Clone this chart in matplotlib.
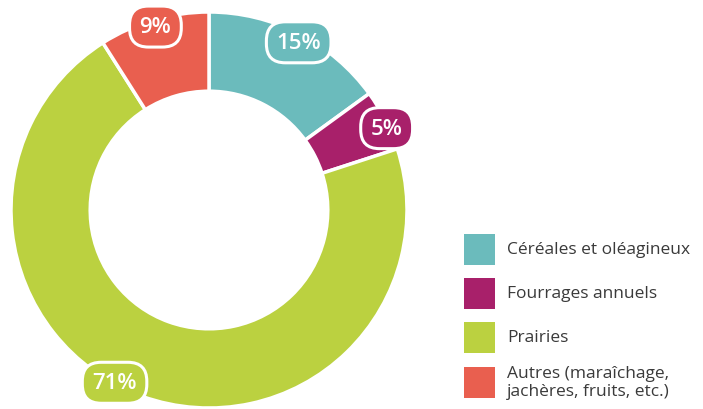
import matplotlib
matplotlib.use("Agg")
import matplotlib.pyplot as plt
from matplotlib.patches import Rectangle
import numpy as np

categories = ["Céréales et oléagineux", "Fourrages annuels", "Prairies",
              "Autres (maraîchage,\njachères, fruits, etc.)"]
values = [15, 5, 71, 9]
labels = ["15%", "5%", "71%", "9%"]
colors = ["#6BBBBC", "#A8206A", "#BBD140", "#E95F4F"]

W, H = 703, 410
fig = plt.figure(figsize=(W / 100, H / 100), dpi=100)
ax = fig.add_axes([0, 0, 1, 1])
ax.axis("off")

cx, cy, R = 209, 199, 198
wedges, _ = ax.pie(values, colors=colors, startangle=90, counterclock=False,
                   center=(cx, cy), radius=R,
                   wedgeprops=dict(width=R * 0.4, edgecolor="white", linewidth=2.5))
ax.set_xlim(0, W)
ax.set_ylim(0, H)
ax.set_aspect("equal")

# label placement: angular shift (deg, clockwise) and radius fraction
shifts = [1, 2, 9, 0]
rfrac = [0.965, 0.99, 0.99, 0.97]
cum = np.cumsum([0] + values)
total = sum(values)
for i, (lab, col) in enumerate(zip(labels, colors)):
    mid = (cum[i] + values[i] / 2) / total * 360 + shifts[i]
    th = np.deg2rad(90 - mid)
    r = R * rfrac[i]
    x, y = cx + r * np.cos(th), cy + r * np.sin(th)
    ax.text(x, y - 1, lab, ha="center", va="center", color="white",
            fontsize=16, fontweight="semibold", family="Open Sans",
            bbox=dict(boxstyle="round,pad=0.45,rounding_size=0.85",
                      facecolor=col, edgecolor="white", linewidth=2.2))

# legend
lx, sq = 464, 31
ys = [250, 294, 338, 383]
for cat, col, yc in zip(categories, colors, ys):
    yy = H - yc
    ax.add_patch(Rectangle((lx, yy - sq / 2), sq, sq, facecolor=col, edgecolor="none"))
    ax.text(507, yy, cat, ha="left", va="center", fontsize=12.5, color="#3a3a3a",
            family="Open Sans", linespacing=1.15)

fig.savefig("out.png", dpi=100)
